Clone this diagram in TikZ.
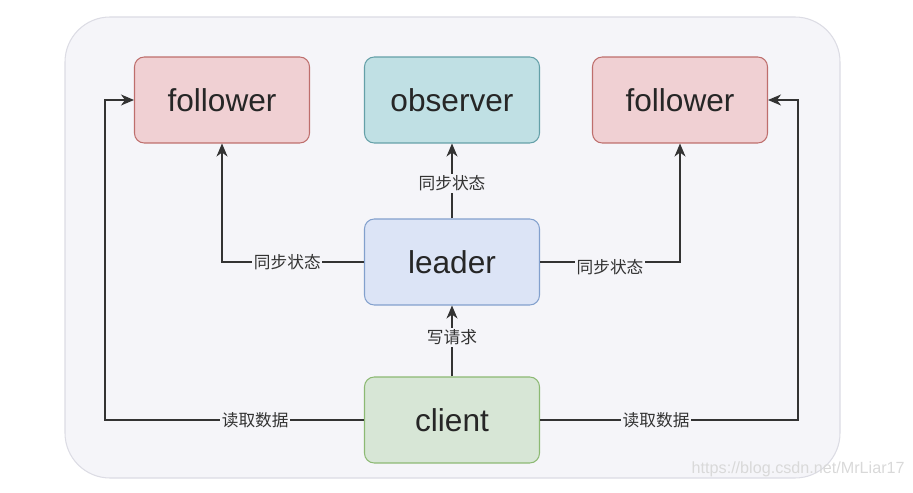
\documentclass[tikz,border=0pt]{standalone}
\usepackage{fontspec}
\setmainfont{Liberation Sans}
\newfontfamily\cjk{Noto Sans CJK SC}
\usetikzlibrary{arrows.meta,positioning}
\definecolor{bgfill}{HTML}{F5F5F9}
\definecolor{bgline}{HTML}{DCDCE4}
\definecolor{linecol}{HTML}{333333}

\begin{document}
\begin{tikzpicture}[
  x=0.02cm, y=-0.02cm,
  role/.style={draw, rounded corners=5.5pt, align=center, minimum width=3.5cm, minimum height=1.72cm, inner sep=2pt, line width=0.6pt, font=\fontsize{18}{20}\selectfont, text=black!85},
  lbl/.style={fill=bgfill, inner sep=1pt, font=\cjk\fontsize{9.5}{11}\selectfont, text=black!80},
  arr/.style={-{Stealth[length=2.6mm, width=2.2mm, inset=0.8mm]}, line width=0.6pt, draw=linecol}
]
\useasboundingbox (0,0) rectangle (913,493);
\draw[bgline, fill=bgfill, rounded corners=0.9cm, line width=0.6pt] (65,17) rectangle (840,478);

\node[role, fill={rgb,255:red,240;green,208;blue,211}, draw={rgb,255:red,190;green,110;blue,108}] (lfollow) at (222,100) {follower};
\node[role, fill={rgb,255:red,192;green,224;blue,228}, draw={rgb,255:red,100;green,160;blue,168}] (observer) at (452,100) {observer};
\node[role, fill={rgb,255:red,240;green,208;blue,211}, draw={rgb,255:red,190;green,110;blue,108}] (rfollow) at (680,100) {follower};
\node[role, fill={rgb,255:red,220;green,228;blue,246}, draw={rgb,255:red,130;green,160;blue,205}] (leader) at (452,262) {leader};
\node[role, fill={rgb,255:red,215;green,230;blue,214}, draw={rgb,255:red,140;green,185;blue,115}] (client) at (452,420) {client};

\coordinate (lbend) at (105,420);
\coordinate (rbend) at (798,420);

\draw[arr] (leader) -- node[lbl, pos=0.47] {同步状态} (observer);
\draw[arr] (leader.west) -| node[lbl, pos=0.27] {同步状态} (lfollow.south);
\draw[arr] (leader.east) -| node[lbl, pos=0.25, yshift=-3pt] {同步状态} (rfollow.south);
\draw[arr] (client) -- node[lbl, pos=0.55] {写请求} (leader);
\draw[arr] (client.west) -- node[lbl, pos=0.42] {读取数据} (lbend) |- (lfollow.west);
\draw[arr] (client.east) -- node[lbl, pos=0.45] {读取数据} (rbend) |- (rfollow.east);

\node[anchor=east, text=black!15, font=\fontsize{9.2}{11}\selectfont, inner sep=0pt] (mark) at (905,469) {https://blog.csdn.net/MrLiar17};
\end{tikzpicture}
\end{document}
